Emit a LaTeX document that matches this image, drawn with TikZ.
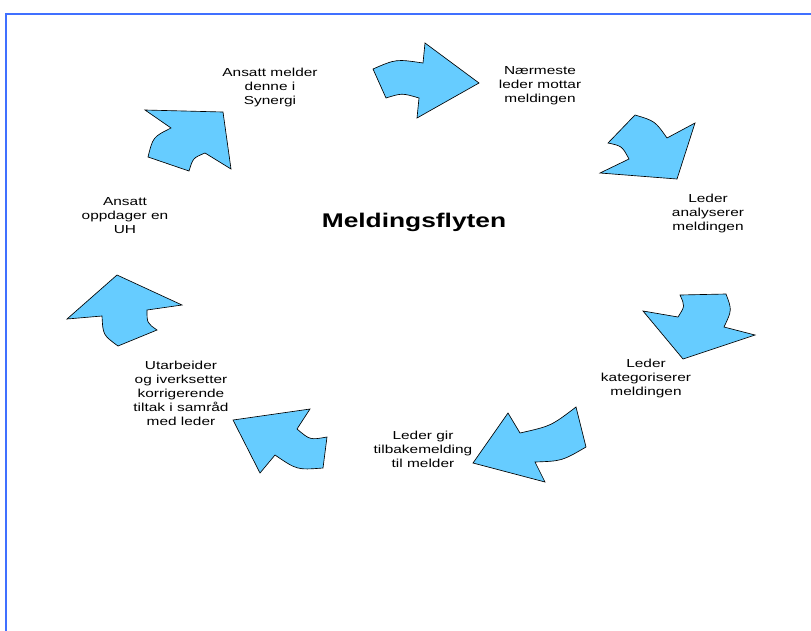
\documentclass[tikz,border=0pt]{standalone}
\usepackage{fontspec}
\setmainfont{Liberation Sans}[FakeStretch=1.33]
\usepackage{xcolor}
\usepackage{tikz}
\usetikzlibrary{positioning}
\definecolor{frameblue}{RGB}{64,112,255}
\definecolor{arrowblue}{RGB}{102,204,255}
\tikzset{%
	stage/.style     = {align=center, inner sep=0pt, font=\fontsize{11.6}{14}\selectfont},
	heading/.style   = {inner sep=0pt, font=\bfseries\fontsize{19.8}{23}\selectfont},
	blockarrow/.style = {draw=black, fill=arrowblue, line width=0.65pt}
}
\begin{document}
\begin{tikzpicture}[x=1pt, y=-1pt]
	\useasboundingbox (0,0) rectangle (811,630);
	\draw[frameblue, line width=2pt] (5.7,640) -- (5.7,14.3) -- (820,14.3);
	
	\node[heading] (flow) at (414,222) {Meldingsflyten};
	\node[stage] (synergi) at (270,87) {Ansatt melder\\denne i\\Synergi};
	\node[stage] (mottar) at (540,86) {Nærmeste\\leder mottar\\meldingen};
	\node[stage] (analyse) at (708,213) {Leder\\analyserer\\meldingen};
	\node[stage] (kategori) at (646,378) {Leder\\kategoriserer\\meldingen};
	\node[stage] (tilbake) at (423,449) {Leder gir\\tilbakemelding\\til melder};
	\node[stage] (tiltak) at (181,393) {Utarbeider\\og iverksetter\\korrigerende\\tiltak i samråd\\med leder};
	\node[stage] (oppdager) at (125,216) {Ansatt\\oppdager en\\UH};
	
	% arrows round the circle
	\draw[blockarrow] (373,69) .. controls (396,59) .. (423,63) -- (425,43) -- (479,83) -- (417,118) -- (419,98) .. controls (402,93) .. (386,98) -- cycle;
	\draw[blockarrow] (635,115) .. controls (655,121) .. (667,138) -- (695,123) -- (677,179) -- (600,173) -- (629,159) .. controls (622,146) .. (608,143) -- cycle;
	\draw[blockarrow] (726,294) .. controls (732,310) .. (724,327) -- (755,335) -- (683,359) -- (643,311) -- (678,317) .. controls (685,306) .. (680,295) -- cycle;
	\draw[blockarrow] (576,407) .. controls (551,426) .. (520,433) -- (508,413) -- (473,463) -- (545,482) -- (535,462) .. controls (562,461) .. (586,447) -- cycle;
	\draw[blockarrow] (233,420) -- (310,409) -- (297,429) .. controls (310,440) .. (327,437) -- (323,468) .. controls (297,470) .. (275,455) -- (260,473) -- cycle;
	\draw[blockarrow] (117,275) -- (182,305) -- (147,310) .. controls (147,323) .. (157,330) -- (118,346) .. controls (103,335) .. (102,316) -- (67,319) -- cycle;
	\draw[blockarrow] (145,110) -- (223,112) -- (231,169) -- (205,153) .. controls (193,158) .. (189,171) -- (148,157) .. controls (153,137) .. (171,128) -- cycle;
\end{tikzpicture}
\end{document}
